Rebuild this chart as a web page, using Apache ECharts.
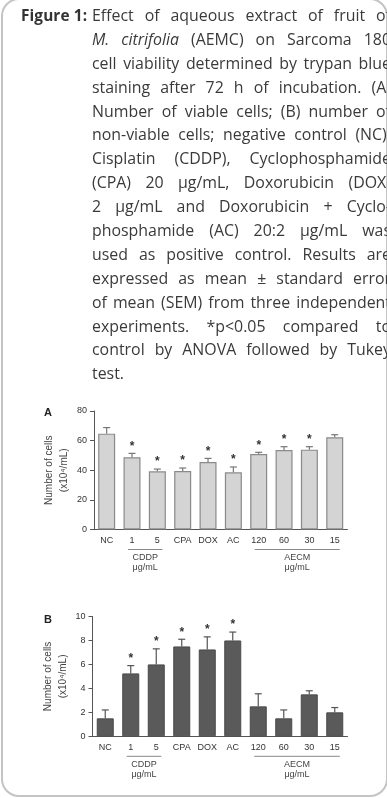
<!DOCTYPE html>
<html><head><meta charset="utf-8">
<script src="https://cdn.jsdelivr.net/npm/echarts@6/dist/echarts.min.js"></script>
<style>
html,body{margin:0;padding:0;background:#fff;width:387px;height:798px;overflow:hidden;}
#frame{position:absolute;left:1px;top:-2px;width:387px;height:799px;box-sizing:border-box;border:2px solid #c4c4c4;border-radius:18px;}
#chart{position:absolute;left:0;top:0;width:387px;height:798px;}
#caption{position:absolute;left:0;top:4px;width:391px;font-family:'Open Sans',sans-serif;font-size:15.9px;line-height:23.9px;color:#3a3a3a;}
.lbl{position:absolute;left:21px;top:0;font-weight:bold;color:#333;font-size:15.4px;letter-spacing:0.1px;}
.ln{margin-left:92px;display:flex;justify-content:space-between;white-space:nowrap;height:23.9px;}
.ln span{flex:0 0 auto;}
.ln.last{justify-content:flex-start;}
</style></head>
<body>
<div id="frame"></div>
<div id="chart"></div>
<div id="caption"><span class="lbl">Figure 1:</span></div>
<script>
const captionLines = [
  'Effect of aqueous extract of fruit of',
  '_M._ _citrifolia_ (AEMC) on Sarcoma 180',
  'cell viability determined by trypan blue',
  'staining after 72 h of incubation. (A)',
  'Number of viable cells; (B) number of',
  'non-viable cells; negative control (NC).',
  'Cisplatin (CDDP), Cyclophosphamide',
  '(CPA) 20 μg/mL, Doxorubicin (DOX)',
  '2 μg/mL and Doxorubicin + Cyclo-',
  'phosphamide (AC) 20:2 μg/mL was',
  'used as positive control. Results are',
  'expressed as mean ± standard error',
  'of mean (SEM) from three independent',
  'experiments. *p<0.05 compared to',
  'control by ANOVA followed by Tukey',
  'test.'
];
const categories = ['NC','1','5','CPA','DOX','AC','120','60','30','15'];
const viableMean = [64.7, 48.8, 39.3, 39.5, 45.6, 38.6, 51.0, 53.7, 53.9, 62.3];
const viableSEM  = [4.1, 2.6, 1.5, 2.0, 2.4, 3.6, 1.1, 2.2, 2.0, 1.7];
const viableSig  = [0, 1, 1, 1, 1, 1, 1, 1, 1, 0];
const nonViableMean = [1.5, 5.25, 6.0, 7.5, 7.25, 8.0, 2.5, 1.5, 3.5, 2.0];
const nonViableSEM  = [0.7, 0.65, 1.3, 0.6, 1.05, 0.7, 1.05, 0.7, 0.3, 0.4];
const nonViableSig  = [0, 1, 1, 1, 1, 1, 0, 0, 0, 0];
const yTicksA = [0, 20, 40, 60, 80];
const yTicksB = [0, 2, 4, 6, 8, 10];
const groupNames = ['CDDP', 'AECM'];
const groupUnits = ['μg/mL', 'μg/mL'];
const groupFrom = [1, 6];
const groupTo = [2, 9];
const yName = 'Number of cells\n(x10⁴/mL)';

// caption (real text, each printed line justified)
const cap = document.getElementById('caption');
captionLines.forEach((line, li) => {
  const d = document.createElement('div');
  d.className = 'ln' + (li === captionLines.length - 1 ? ' last' : '');
  line.split(' ').forEach(w => {
    const s = document.createElement('span');
    if (w.startsWith('_') && w.endsWith('_')) { s.style.fontStyle = 'italic'; w = w.slice(1, -1); }
    s.textContent = w;
    d.appendChild(s);
  });
  cap.appendChild(d);
});

const font = '"Liberation Sans", Arial, sans-serif';
const chart = echarts.init(document.getElementById('chart'));

function xAxis(gi){
  return {type:'category', gridIndex:gi, data:categories,
    axisLine:{lineStyle:{color:'#555',width:1}},
    axisTick:{alignWithLabel:true,length:4,lineStyle:{color:'#555'}},
    axisLabel:{color:'#333',fontSize:9,fontFamily:font,margin:7,interval:0}};
}
function yAxis(gi, ticks){
  return {type:'value', gridIndex:gi, min:ticks[0], max:ticks[ticks.length-1], interval:ticks[1]-ticks[0],
    name:yName, nameLocation:'middle', nameGap:22, nameRotate:90, nameMoveOverlap:false,
    nameTextStyle:{color:'#444',fontSize:10,fontFamily:font,lineHeight:15},
    axisLine:{show:true,lineStyle:{color:'#555'}},
    axisTick:{show:true,length:4,lineStyle:{color:'#555'}},
    axisLabel:{color:'#333',fontSize:9,fontFamily:font,margin:7},
    splitLine:{show:false}};
}
function errRender(color){
  return function(params, api){
    const i = api.value(0), m = api.value(1), s = api.value(2), sig = api.value(3);
    const p0 = api.coord([i, m]), p1 = api.coord([i, m + s]);
    const ch = [
      {type:'line', shape:{x1:p0[0],y1:p0[1],x2:p1[0],y2:p1[1]}, style:{stroke:color,lineWidth:1.2}},
      {type:'line', shape:{x1:p1[0]-3.5,y1:p1[1],x2:p1[0]+3.5,y2:p1[1]}, style:{stroke:color,lineWidth:1.2}}
    ];
    if (sig) ch.push({type:'text', style:{text:'*', x:p1[0], y:p1[1]-1, align:'center', verticalAlign:'bottom', fontSize:12, fontWeight:'bold', fill:'#333', fontFamily:font}});
    return {type:'group', children:ch};
  };
}
function groupRender(params, api){
  const k = params.dataIndex;
  const a = api.coord([api.value(0), 0]), b = api.coord([api.value(1), 0]);
  const y = a[1], x1 = a[0]-4, x2 = b[0]+5, cx = (x1+x2)/2;
  return {type:'group', children:[
    {type:'line', shape:{x1:x1,y1:y+20,x2:x2,y2:y+20}, style:{stroke:'#888',lineWidth:1}},
    {type:'text', style:{text:groupNames[k], x:cx, y:y+28.5, align:'center', verticalAlign:'middle', fontSize:9, fill:'#444', fontFamily:font}},
    {type:'text', style:{text:groupUnits[k], x:cx, y:y+38.5, align:'center', verticalAlign:'middle', fontSize:9, fill:'#444', fontFamily:font}}
  ]};
}
const groupData = groupFrom.map((f, k) => [f, groupTo[k], 0]);

chart.setOption({
  animation:false,
  title:[
    {text:'A', left:44, top:407, padding:0, textStyle:{fontSize:11,fontWeight:'bold',color:'#222',fontFamily:font}},
    {text:'B', left:44, top:614, padding:0, textStyle:{fontSize:11,fontWeight:'bold',color:'#222',fontFamily:font}}
  ],
  grid:[
    {left:94, right:39.6, top:411, height:118.5},
    {left:92.5, right:39.5, top:616.5, height:119.8}
  ],
  xAxis:[xAxis(0), xAxis(1)],
  yAxis:[yAxis(0, yTicksA), yAxis(1, yTicksB)],
  series:[
    {type:'bar', xAxisIndex:0, yAxisIndex:0, data:viableMean, barWidth:17,
      itemStyle:{color:'#d4d4d4', borderColor:'#8a8a8a', borderWidth:1.2}},
    {type:'custom', xAxisIndex:0, yAxisIndex:0, renderItem:errRender('#777'), clip:false,
      data:viableMean.map((m,i)=>[i, m, viableSEM[i], viableSig[i]]), encode:{x:0,y:1}, z:3},
    {type:'custom', xAxisIndex:0, yAxisIndex:0, renderItem:groupRender, clip:false, silent:true,
      data:groupData, encode:{x:[0,1],y:2}},
    {type:'bar', xAxisIndex:1, yAxisIndex:1, data:nonViableMean, barWidth:17,
      itemStyle:{color:'#5a5a5a', borderColor:'#4a4a4a', borderWidth:1}},
    {type:'custom', xAxisIndex:1, yAxisIndex:1, renderItem:errRender('#555'), clip:false,
      data:nonViableMean.map((m,i)=>[i, m, nonViableSEM[i], nonViableSig[i]]), encode:{x:0,y:1}, z:3},
    {type:'custom', xAxisIndex:1, yAxisIndex:1, renderItem:groupRender, clip:false, silent:true,
      data:groupData, encode:{x:[0,1],y:2}}
  ]
});
</script>
</body></html>
